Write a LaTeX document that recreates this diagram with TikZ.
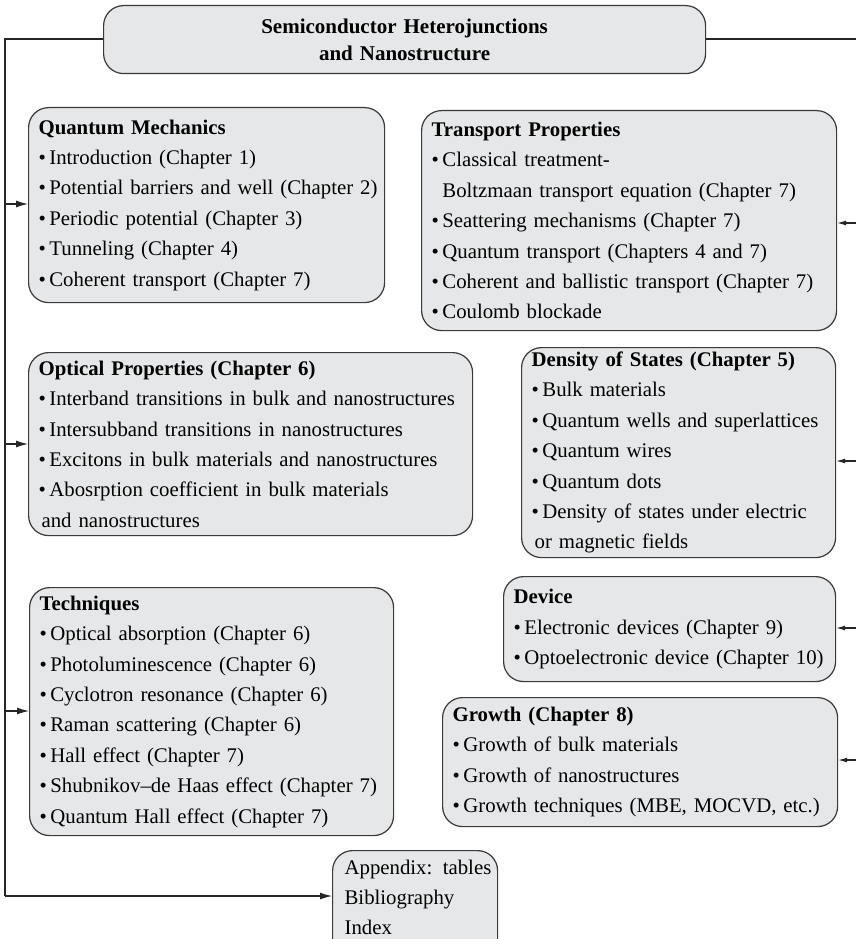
\documentclass[tikz,border=0pt]{standalone}
\usepackage{fontspec}
\setmainfont{Liberation Serif}
\usetikzlibrary{arrows.meta}
\definecolor{boxfill}{HTML}{E6E7E8}
\definecolor{boxline}{HTML}{3A3A3A}
\tikzset{
  card/.style={draw=boxline, fill=boxfill, line width=1.2pt, rounded corners=20pt,
    anchor=north west, align=left, inner xsep=10pt, inner ysep=0pt,
    font=\fontsize{20.8}{30.4}\selectfont},
  conn/.style={line width=1.1pt, draw=black!85},
  arrL/.style={conn, -{Latex[length=12pt,width=7pt]}},
  arrR/.style={conn, -{Latex[length=9pt,width=5pt]}},
}
\newcommand{\hd}[1]{\mbox{\textbf{#1}}}
\newcommand{\bl}[1]{\mbox{•\hspace{3.5pt}#1}}
\newcommand{\cont}[1]{\mbox{\hphantom{•\hspace{3.5pt}}#1}}
\newcommand{\contb}[1]{\mbox{\hspace*{3pt}#1}}
\begin{document}
\begin{tikzpicture}[x=1pt,y=-1pt]
\useasboundingbox (0,0) rectangle (855,939);

\node[card, align=center, text width=582pt, minimum height=68pt,
  font=\fontsize{21}{27}\selectfont\bfseries] (title) at (103,5)
  {Semiconductor Heterojunctions\\and Nanostructure};

\node[card, text width=336pt, minimum height=195pt] (qm) at (28,107)
  {\hd{Quantum Mechanics}\\
   \bl{Introduction (Chapter 1)}\\
   \bl{Potential barriers and well (Chapter 2)}\\
   \bl{Periodic potential (Chapter 3)}\\
   \bl{Tunneling (Chapter 4)}\\
   \bl{Coherent transport (Chapter 7)}};

\node[card, text width=395pt, minimum height=220pt] (tp) at (421,110)
  {\hd{Transport Properties}\\
   \bl{Classical treatment-}\\
   \cont{Boltzmaan transport equation (Chapter 7)}\\
   \bl{Seattering mechanisms (Chapter 7)}\\
   \bl{Quantum transport (Chapters 4 and 7)}\\
   \bl{Coherent and ballistic transport (Chapter 7)}\\
   \bl{Coulomb blockade}};

\node[card, text width=424pt, minimum height=183pt] (op) at (28,352)
  {\hd{Optical Properties (Chapter 6)}\\
   \bl{Interband transitions in bulk and nanostructures}\\
   \bl{Intersubband transitions in nanostructures}\\
   \bl{Excitons in bulk materials and nanostructures}\\
   \bl{Abosrption coefficient in bulk materials}\\
   \contb{and nanostructures}};

\node[card, text width=294pt, minimum height=210pt] (dos) at (521,347)
  {\hd{Density of States (Chapter 5)}\\
   \bl{Bulk materials}\\
   \bl{Quantum wells and superlattices}\\
   \bl{Quantum wires}\\
   \bl{Quantum dots}\\
   \bl{Density of states under electric}\\
   \contb{or magnetic fields}};

\node[card, text width=344pt, minimum height=248pt] (tech) at (29,587)
  {\hd{Techniques}\\
   \bl{Optical absorption (Chapter 6)}\\
   \bl{Photoluminescence (Chapter 6)}\\
   \bl{Cyclotron resonance (Chapter 6)}\\
   \bl{Raman scattering (Chapter 6)}\\
   \bl{Hall effect (Chapter 7)}\\
   \bl{Shubnikov–de Haas effect (Chapter 7)}\\
   \bl{Quantum Hall effect (Chapter 7)}};

\node[card, text width=312pt, minimum height=105pt] (dev) at (503,576)
  {\hd{Device}\\
   \bl{Electronic devices (Chapter 9)}\\
   \bl{Optoelectronic device (Chapter 10)}};

\node[card, text width=375pt, minimum height=129pt] (gro) at (442,697)
  {\hd{Growth (Chapter 8)}\\
   \bl{Growth of bulk materials}\\
   \bl{Growth of nanostructures}\\
   \bl{Growth techniques (MBE, MOCVD, etc.)}};

\node[card, text width=141pt, inner xsep=12pt, inner ysep=9pt] (app) at (332,850)
  {\mbox{Appendix: tables}\\
   \mbox{Bibliography}\\
   \mbox{Index\rule[-24pt]{0pt}{24pt}}};

% left trunk
\coordinate (lt) at (5,39);
\coordinate (lq) at (5,204);
\coordinate (lo) at (5,444);
\coordinate (lte) at (5,711);
\coordinate (lb) at (5,896);
\draw[conn] (title.west |- lt) -- (lt) -- (lb);
\draw[arrL] (lq) -- (lq -| qm.west);
\draw[arrL] (lo) -- (lo -| op.west);
\draw[arrL] (lte) -- (lte -| tech.west);
\draw[arrL] (lb) -- (lb -| app.west);

% right trunk (just beyond the right edge)
\coordinate (rt) at (858,39);
\coordinate (rtp) at (858,223);
\coordinate (rdo) at (858,461);
\coordinate (rde) at (858,628);
\coordinate (rgr) at (858,760);
\draw[conn] (title.east |- rt) -- (rt) -- (rgr);
\draw[arrR] (rtp) -- (rtp -| tp.east);
\draw[arrR] (rdo) -- (rdo -| dos.east);
\draw[arrR] (rde) -- (rde -| dev.east);
\draw[arrR] (rgr) -- (rgr -| gro.east);
\end{tikzpicture}
\end{document}
